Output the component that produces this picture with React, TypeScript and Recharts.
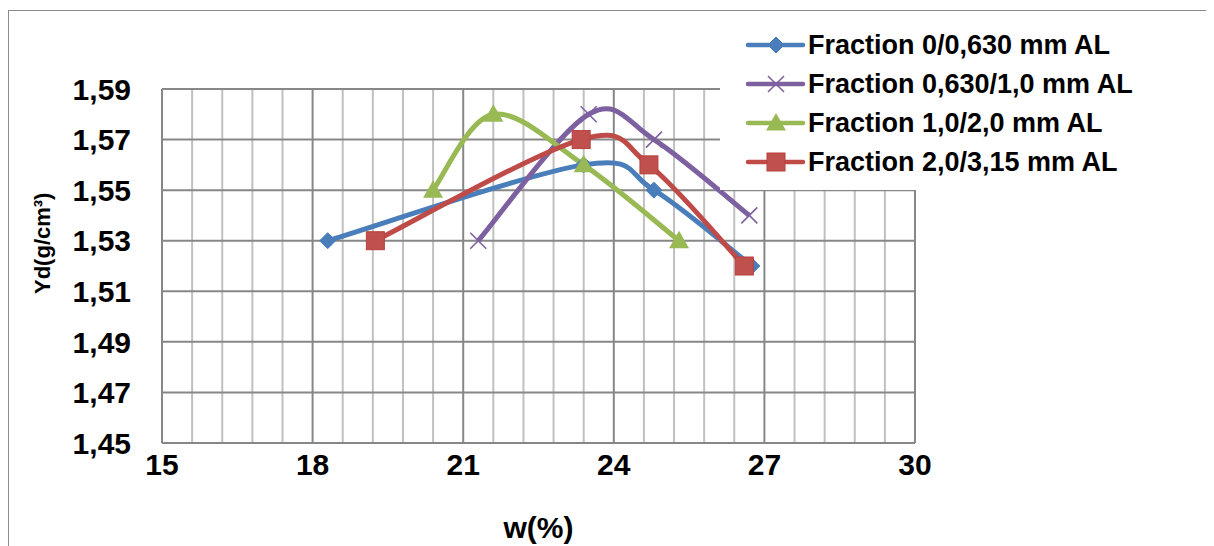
import React from "react";
import { LineChart, Line, XAxis, YAxis, ReferenceLine } from "recharts";

// measured values (w %, dry density g/cm3)
const blueW = [18.3, 23.4, 24.8, 26.75];
const blueYd = [1.53, 1.56, 1.55, 1.52];
const purpleW = [21.3, 23.5, 24.8, 26.7];
const purpleYd = [1.53, 1.58, 1.57, 1.54];
const greenW = [20.4, 21.6, 23.4, 25.3];
const greenYd = [1.55, 1.58, 1.56, 1.53];
const redW = [19.25, 23.35, 24.7, 26.6];
const redYd = [1.53, 1.57, 1.56, 1.52];

const xTicks = [15, 18, 21, 24, 27, 30];
const xMinor = [15.6, 16.2, 16.8, 17.4, 18.6, 19.2, 19.8, 20.4, 21.6, 22.2, 22.8, 23.4, 24.6, 25.2, 25.8, 26.4, 27.6, 28.2, 28.8, 29.4];
const yTicks = [1.45, 1.47, 1.49, 1.51, 1.53, 1.55, 1.57, 1.59];

const seriesNames = [
  "Fraction 0/0,630 mm AL",
  "Fraction 0,630/1,0 mm AL",
  "Fraction 1,0/2,0 mm AL",
  "Fraction 2,0/3,15 mm AL",
];
const colors = ["#4a7ebb", "#7d60a0", "#98b954", "#be4b48"];
const shapes = ["diamond", "cross", "triangle", "square"];

const toRows = (xs: number[], ys: number[]) => xs.map((x, i) => ({ w: x, yd: ys[i] }));
const seriesData = [
  toRows(blueW, blueYd),
  toRows(purpleW, purpleYd),
  toRows(greenW, greenYd),
  toRows(redW, redYd),
];

const FONT = "'Liberation Sans', Arial, sans-serif";

// Excel-like smoothed line (Catmull-Rom as cubic bezier)
const excelCurve = (context: any) => {
  let pts: number[][] = [];
  return {
    areaStart() {},
    areaEnd() {},
    lineStart() {
      pts = [];
    },
    point(x: number, y: number) {
      pts.push([+x, +y]);
    },
    lineEnd() {
      if (!pts.length) return;
      context.moveTo(pts[0][0], pts[0][1]);
      for (let i = 0; i < pts.length - 1; i++) {
        const p0 = pts[i - 1] || pts[i];
        const p1 = pts[i];
        const p2 = pts[i + 1];
        const p3 = pts[i + 2] || p2;
        context.bezierCurveTo(
          p1[0] + (p2[0] - p0[0]) / 6,
          p1[1] + (p2[1] - p0[1]) / 6,
          p2[0] - (p3[0] - p1[0]) / 6,
          p2[1] - (p3[1] - p1[1]) / 6,
          p2[0],
          p2[1]
        );
      }
    },
  };
};

function Marker({ cx, cy, shape, color }: { cx: number; cy: number; shape: string; color: string }) {
  if (shape === "diamond") {
    const r = 8;
    return <polygon points={`${cx},${cy - r} ${cx + r},${cy} ${cx},${cy + r} ${cx - r},${cy}`} fill={color} stroke={color} strokeWidth={1} />;
  }
  if (shape === "square") {
    const r = 9;
    return <rect x={cx - r} y={cy - r} width={2 * r} height={2 * r} fill="#c0504d" stroke="#b9403c" strokeWidth={1} />;
  }
  if (shape === "triangle") {
    const r = 10;
    return <polygon points={`${cx},${cy - r} ${cx + r},${cy + r * 0.75} ${cx - r},${cy + r * 0.75}`} fill={color} />;
  }
  const r = 8;
  return (
    <g stroke={color} strokeWidth={1.6}>
      <line x1={cx - r} y1={cy - r} x2={cx + r} y2={cy + r} />
      <line x1={cx - r} y1={cy + r} x2={cx + r} y2={cy - r} />
    </g>
  );
}

const makeDot = (shape: string, color: string) => (props: any) => {
  const { cx, cy, index } = props;
  if (cx == null || cy == null) return <g key={index} />;
  return <Marker key={index} cx={cx} cy={cy} shape={shape} color={color} />;
};

function LegendBox() {
  return (
    <div
      style={{
        position: "absolute",
        left: 712,
        top: 18,
        width: 430,
        height: 164,
        background: "#fff",
      }}
    >
      {seriesNames.map((name, i) => (
        <div
          key={name}
          style={{ position: "absolute", left: 0, top: 3 + i * 39, height: 32, display: "flex", alignItems: "center" }}
        >
          <svg width={90} height={32} style={{ display: "block" }}>
            <line x1={28} y1={16} x2={83} y2={16} stroke={colors[i]} strokeWidth={4.5} strokeLinecap="round" />
            <Marker cx={56} cy={16} shape={shapes[i]} color={colors[i]} />
          </svg>
          <span style={{ fontFamily: FONT, fontWeight: 700, fontSize: 27, color: "#000", marginLeft: -2, whiteSpace: "nowrap" }}>
            {name}
          </span>
        </div>
      ))}
    </div>
  );
}

export default function App() {
  return (
    <div style={{ position: "relative", width: 1206, height: 538, overflow: "hidden" }}>
      <div
        style={{
          position: "absolute",
          left: 0,
          top: 2,
          width: 1300,
          height: 600,
          borderTop: "1.5px solid #8c8c8c",
          borderLeft: "1.5px solid #8c8c8c",
        }}
      />
      <div style={{ position: "absolute", left: 0, top: 0 }}>
        <LineChart width={1206} height={538} margin={{ top: 81, right: 299, left: 0, bottom: 0 }}>
          <XAxis
            type="number"
            dataKey="w"
            domain={[15, 30]}
            ticks={xTicks}
            allowDataOverflow
            height={103}
            tickLine={false}
            axisLine={{ stroke: "#878787", strokeWidth: 2 }}
            tickMargin={5}
            tick={{ fontFamily: FONT, fontWeight: 700, fontSize: 30, fill: "#000" }}
            label={{
              value: "w(%)",
              position: "insideBottom",
              offset: 8,
              style: { fontFamily: FONT, fontWeight: 700, fontSize: 30, fill: "#000" },
            }}
          />
          <YAxis
            type="number"
            domain={[1.45, 1.59]}
            ticks={yTicks}
            allowDataOverflow
            width={154}
            tickLine={false}
            axisLine={{ stroke: "#878787", strokeWidth: 2 }}
            tickMargin={25}
            tickFormatter={(v: number) => v.toFixed(2).replace(".", ",")}
            tick={{ fontFamily: FONT, fontWeight: 700, fontSize: 30, fill: "#000" }}
            label={{
              value: "Yd(g/cm³)",
              angle: -90,
              position: "insideLeft",
              offset: 34,
              dy: 28,
              style: { fontFamily: FONT, fontWeight: 700, fontSize: 22, fill: "#000" },
            }}
          />
          {xMinor.map((v) => (
            <ReferenceLine key={`m${v}`} x={v} stroke="#c0c0c0" strokeWidth={2} />
          ))}
          {xTicks.map((v) => (
            <ReferenceLine key={`M${v}`} x={v} stroke="#878787" strokeWidth={2} />
          ))}
          {yTicks.map((v) => (
            <ReferenceLine key={`h${v}`} y={v} stroke="#878787" strokeWidth={2} />
          ))}
          {seriesData.map((d, i) => (
            <Line
              key={seriesNames[i]}
              data={d}
              dataKey="yd"
              name={seriesNames[i]}
              type={excelCurve as any}
              stroke={colors[i]}
              strokeWidth={5}
              dot={makeDot(shapes[i], colors[i])}
              activeDot={false}
              isAnimationActive={false}
            />
          ))}
        </LineChart>
      </div>
      <LegendBox />
    </div>
  );
}
